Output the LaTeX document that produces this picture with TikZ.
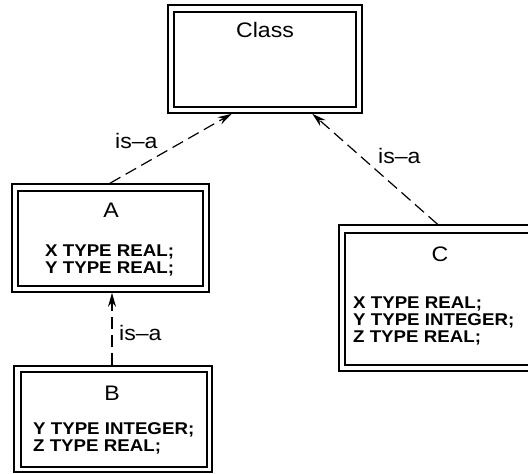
\documentclass[tikz,border=0pt]{standalone}
\usepackage{fontspec}
\newfontfamily\labfont{Liberation Sans}[FakeStretch=1.1]
\newfontfamily\codefont{Liberation Sans Bold}[FakeStretch=1.1]
\usetikzlibrary{arrows.meta,calc}
\tikzset{
  outerbox/.style={draw, line width=1.6pt, rectangle, inner sep=0pt},
  innerbox/.style={draw, line width=1.2pt, rectangle, inner sep=0pt},
  lab/.style={inner sep=0pt, anchor=base, font=\labfont\fontsize{21}{21}\selectfont},
  code/.style={inner sep=0pt, anchor=base west, text height=12pt, text depth=0pt, font=\codefont\fontsize{17}{17}\selectfont},
  isa/.style={line width=1.2pt, dash pattern=on 12pt off 6pt, -{Stealth[length=14pt,width=8pt]}},
  isalab/.style={inner sep=0pt, anchor=base west, font=\labfont\fontsize{21}{21}\selectfont}
}
\begin{document}
\begin{tikzpicture}[x=1pt,y=-1pt]
\useasboundingbox (0,0) rectangle (528,474);
\clip (0,0) rectangle (528,474);
% Class
\node[outerbox, minimum width=194pt, minimum height=108pt] (class) at (265,59) {};
\node[innerbox, minimum width=182pt, minimum height=95pt] (classin) at (265,59.5) {};
\node[lab] (classlab) at (265,37) {Class};
% A
\node[outerbox, minimum width=197pt, minimum height=108pt] (A) at (110.5,238) {};
\node[innerbox, minimum width=185pt, minimum height=95pt] (Ain) at (110.5,238.5) {};
\node[lab] (Alab) at (111,217) {A};
\node[code] (Ax) at (45,256) {X TYPE REAL;};
\node[code] (Ay) at (45,273) {Y TYPE REAL;};
% B
\node[outerbox, minimum width=198pt, minimum height=106pt] (B) at (113,419) {};
\node[innerbox, minimum width=186pt, minimum height=95pt] (Bin) at (114,419.5) {};
\node[lab] (Blab) at (112,400) {B};
\node[code] (By) at (33,434.5) {Y TYPE INTEGER;};
\node[code] (Bz) at (33,451.5) {Z TYPE REAL;};
% C
\node[outerbox, minimum width=201pt, minimum height=146pt] (C) at (439.5,298) {};
\node[innerbox, minimum width=189pt, minimum height=132pt] (Cin) at (439.5,299) {};
\node[lab] (Clab) at (440,261) {C};
\node[code] (Cx) at (353,308.5) {X TYPE REAL;};
\node[code] (Cy) at (353,325.5) {Y TYPE INTEGER;};
\node[code] (Cz) at (353,342.5) {Z TYPE REAL;};
% connectors
\coordinate (atop) at ($(A.north)+(-0.5,0)$);
\coordinate (ctop) at ($(C.north)+(-2,0)$);
\coordinate (btop) at ($(B.north)+(-1,0)$);
\coordinate (cl1) at ($(class.south west)!0.33!(class.south east)$);
\coordinate (cl2) at ($(class.south west)!0.742!(class.south east)$);
\draw[isa] (atop) -- (cl1);
\draw[isa] (ctop) -- (cl2);
\draw[isa] (btop) -- (btop |- A.south);
% labels
\node[isalab] (l1) at (115,148) {is–a};
\node[isalab] (l2) at (378,163) {is–a};
\node[isalab] (l3) at (119,340) {is–a};
\end{tikzpicture}
\end{document}
